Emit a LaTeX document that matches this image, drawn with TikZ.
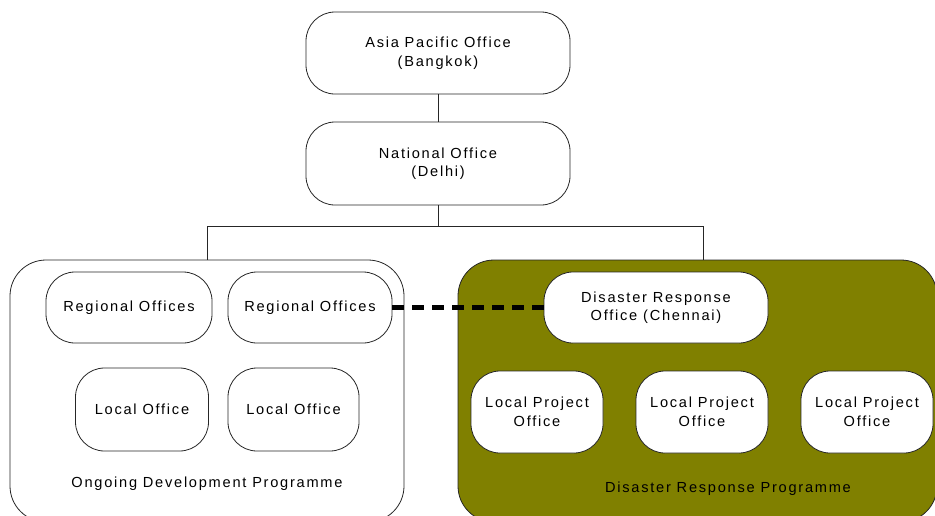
\documentclass[tikz,border=0pt]{standalone}
\usepackage{fontspec}
\setmainfont{Liberation Sans}[LetterSpace=12]
\begin{document}
\begin{tikzpicture}[x=1pt,y=-1pt,
  office/.style={draw=black!85, line width=0.8pt, fill=white, rounded corners=29pt,
    align=center, inner sep=0pt, font=\fontsize{14.6pt}{18.5pt}\selectfont},
  group/.style={draw=black!85, line width=0.8pt, rounded corners=36pt, inner sep=0pt},
  caption/.style={font=\fontsize{14.6pt}{18.5pt}\selectfont, inner sep=0pt},
  link/.style={draw=black!85, line width=0.8pt},
  liaison/.style={line width=4.2pt, dash pattern=on 12pt off 8pt}]
\definecolor{olive}{HTML}{808000}
\useasboundingbox (0,0) rectangle (935,515);

% programme containers
\node[group, minimum width=394pt, minimum height=262pt] (dev) at (207,391) {};
\node[group, fill=olive, minimum width=479pt, minimum height=262pt] (dis) at (697.5,391) {};

% head offices
\node[office, minimum width=264pt, minimum height=82pt] (apo) at (438,53) {Asia Pacific Office\\(Bangkok)};
\node[office, minimum width=264pt, minimum height=83pt] (nat) at (438,163.5) {National Office\\(Delhi)};

% ongoing development programme offices
\node[office, minimum width=166pt, minimum height=71pt] (reg1) at (129,307.5) {Regional Offices};
\node[office, minimum width=164pt, minimum height=71pt] (reg2) at (310,307.5) {Regional Offices};
\node[office, minimum width=133pt, minimum height=83pt] (loc1) at (142,409.5) {Local Office};
\node[office, minimum width=131pt, minimum height=83pt] (loc2) at (293.5,409.5) {Local Office};
\node[caption] (devlbl) at (207,484) {Ongoing Development Programme};

% disaster response programme offices
\node[office, minimum width=224pt, minimum height=71pt] (dro) at (656,307.5) {Disaster Response\\Office (Chennai)};
\node[office, minimum width=132pt, minimum height=82pt] (lp1) at (537,412) {Local Project\\Office};
\node[office, minimum width=132pt, minimum height=82pt] (lp2) at (702,412) {Local Project\\Office};
\node[office, minimum width=132pt, minimum height=82pt] (lp3) at (867,412) {Local Project\\Office};
\node[caption] (dislbl) at (728,489) {Disaster Response Programme};

% reporting lines
\coordinate (jl) at (207,226);
\coordinate (jr) at (703,226);
\draw[link] (apo) -- (nat);
\draw[link] (nat.south) -- (nat.south |- jl);
\draw[link] (dev.north) -- (jl) -- (jr) -- (jr |- dis.north);

% liaison between regional and disaster offices
\draw[liaison] (reg2.east) -- (dro.west);
\end{tikzpicture}
\end{document}
